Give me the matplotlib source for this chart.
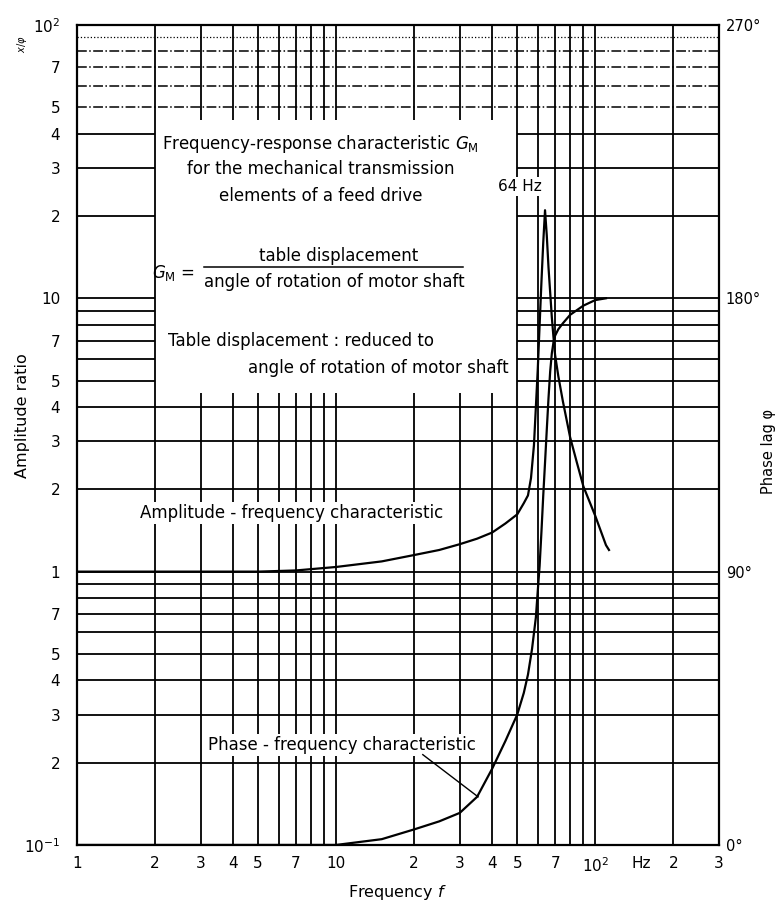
import matplotlib
matplotlib.use("Agg")
import matplotlib.pyplot as plt
from matplotlib.ticker import NullLocator

# tick values / labels
x_ticks = [1, 2, 3, 4, 5, 7, 10, 20, 30, 40, 50, 70, 100, 150, 200, 300]
x_labels = ['1', '2', '3', '4', '5', '7', '10', '2', '3', '4', '5', '7',
            r'$10^2$', 'Hz', '2', '3']
y_ticks = [0.1, 0.2, 0.3, 0.4, 0.5, 0.7, 1, 2, 3, 4, 5, 7, 10,
           20, 30, 40, 50, 70, 100]
y_labels = [r'$10^{-1}$', '2', '3', '4', '5', '7', '1', '2', '3', '4', '5', '7',
            '10', '2', '3', '4', '5', '7', r'$10^2$']
phase_ticks = [0.1, 1, 10, 100]
phase_labels = ['0°', '90°', '180°', '270°']

# amplitude-frequency characteristic
amp_f = [1, 2, 5, 7, 10, 15, 20, 25, 30, 35, 40, 45, 50, 53, 55, 56.5, 58, 59,
         60, 61, 62, 63, 64, 65, 66, 67, 68, 69, 70, 72, 75, 80, 85, 90, 100, 110, 113]
amp_v = [1.0, 1.0, 1.0, 1.01, 1.04, 1.09, 1.15, 1.2, 1.26, 1.32, 1.39, 1.5, 1.62,
         1.78, 1.9, 2.2, 2.9, 4.0, 5.5, 8.0, 11.5, 16, 21, 17, 13, 10.5, 8.5, 7.2,
         6.2, 5.2, 4.2, 3.1, 2.5, 2.05, 1.6, 1.25, 1.2]

# phase-frequency characteristic, plotted on the same log axis (0.1 = 0 deg, 10 = 180 deg)
ph_f = [1, 5, 10, 15, 20, 25, 30, 35, 40, 45, 50, 53, 55, 57, 59, 60, 61, 62, 63,
        64, 65, 66, 67, 68, 69, 70, 72, 75, 80, 90, 100, 110]
ph_v = [0.1, 0.1, 0.1, 0.105, 0.114, 0.122, 0.131, 0.15, 0.19, 0.24, 0.3, 0.36,
        0.42, 0.52, 0.68, 0.85, 1.05, 1.4, 1.9, 2.5, 3.3, 4.3, 5.4, 6.3, 6.9, 7.3,
        7.7, 8.1, 8.7, 9.4, 9.85, 10.0]

# grid layout
v_full = [2, 50, 60, 70, 80, 90, 100, 200]
v_gap = [3, 4, 5, 6, 7, 8, 9, 10, 20, 30, 40]
h_full = [0.2, 0.3, 0.4, 0.5, 0.6, 0.7, 0.8, 0.9, 1, 2, 3, 4]
h_split = [5, 6, 7, 8, 9, 10, 20, 30, 40]
h_dash = [50, 60, 70, 80]
h_dot = [90]

fig = plt.figure(figsize=(7.78, 9.01), dpi=100)
ax = fig.add_axes([0.099, 0.0622, 0.825, 0.9101])
ax.set_xscale('log')
ax.set_yscale('log')
ax.set_xlim(1, 300)
ax.set_ylim(0.1, 100)

lw = 1.3
ax.vlines(v_full, 0.1, 100, color='black', lw=lw, zorder=1)
ax.vlines(v_gap, 0.1, 4.5, color='black', lw=lw, zorder=1)
ax.vlines(v_gap, 45, 100, color='black', lw=lw, zorder=1)
ax.hlines(h_full, 1, 300, color='black', lw=lw, zorder=1)
ax.hlines(h_split, 1, 2, color='black', lw=lw, zorder=1)
ax.hlines(h_split, 50, 300, color='black', lw=lw, zorder=1)
ax.hlines(h_dash, 1, 300, color='black', lw=1.1, linestyles='dashdot', zorder=1)
ax.hlines(h_dot, 1, 300, color='black', lw=0.9, linestyles=':', zorder=1)

ax.plot(amp_f, amp_v, color='black', lw=1.6, zorder=3)
ax.plot(ph_f, ph_v, color='black', lw=1.6, zorder=3)

for s in ax.spines.values():
    s.set_linewidth(1.6)

ax.set_xticks(x_ticks, x_labels)
ax.set_yticks(y_ticks, y_labels)
ax.xaxis.set_minor_locator(NullLocator())
ax.yaxis.set_minor_locator(NullLocator())
ax.tick_params(length=0, labelsize=11)
ax.tick_params(axis='x', pad=8)
ax.tick_params(axis='y', pad=12)
ax.set_xlabel('Frequency $f$', fontsize=11.5, labelpad=6)
ax.set_ylabel('Amplitude ratio', fontsize=11.5)
ax.yaxis.set_label_coords(-0.073, 0.524)

ax2 = ax.twinx()
ax2.set_yscale('log')
ax2.set_ylim(0.1, 100)
ax2.set_yticks(phase_ticks, phase_labels)
ax2.yaxis.set_minor_locator(NullLocator())
ax2.tick_params(length=0, labelsize=10.5, pad=5)
ax2.set_ylabel('Phase lag φ', fontsize=10.5)
ax2.yaxis.set_label_coords(1.066, 0.48)
for s in ax2.spines.values():
    s.set_visible(False)

fs = 12
wb = dict(facecolor='white', edgecolor='none', pad=1.5)
ax.text(8.7, 36.6, r'Frequency-response characteristic $G_{\rm M}$', fontsize=fs,
        ha='center', va='center', zorder=4)
ax.text(8.7, 29.7, 'for the mechanical transmission', fontsize=fs,
        ha='center', va='center', zorder=4)
ax.text(8.7, 23.7, 'elements of a feed drive', fontsize=fs,
        ha='center', va='center', zorder=4)
ax.text(51, 25.7, '64 Hz', fontsize=11, ha='center', va='center', bbox=wb, zorder=4)

ax.text(2.85, 12.4, r'$G_{\rm M}$ =', fontsize=fs, ha='right', va='center', zorder=4)
ax.text(10.2, 14.3, 'table displacement', fontsize=fs, ha='center', va='center', zorder=4)
ax.plot([3.1, 30.9], [13.0, 13.0], color='black', lw=1.1, zorder=4)
ax.text(9.8, 11.5, 'angle of rotation of motor shaft', fontsize=fs,
        ha='center', va='center', zorder=4)

ax.text(2.25, 6.95, 'Table displacement : reduced to', fontsize=fs,
        ha='left', va='center', zorder=4)
ax.text(4.55, 5.58, 'angle of rotation of motor shaft', fontsize=fs,
        ha='left', va='center', zorder=4)

ax.text(1.75, 1.64, 'Amplitude - frequency characteristic', fontsize=fs,
        ha='left', va='center', bbox=wb, zorder=4)
ax.text(3.21, 0.232, 'Phase - frequency characteristic', fontsize=fs,
        ha='left', va='center', bbox=wb, zorder=4)
ax.plot([21.6, 35.3], [0.214, 0.15], color='black', lw=1.0, zorder=4)

ax.text(-0.086, 0.976, r'$x/\varphi$', transform=ax.transAxes, rotation=90,
        fontsize=7, ha='center', va='center')

fig.savefig('out.png', dpi=100)
